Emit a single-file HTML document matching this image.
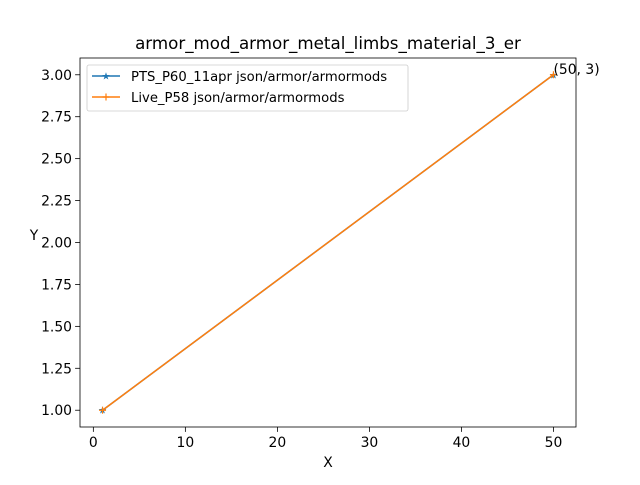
<!DOCTYPE html>
<html><head><meta charset="utf-8"><style>
body{margin:0;background:#fff;font-family:"Liberation Sans","DejaVu Sans",sans-serif;}
svg text{font-family:"DejaVu Sans","Liberation Sans",sans-serif;}
</style></head><body>
<svg id="chart" width="640" height="480" viewBox="0 0 640 480"></svg>
<script>
const xValues=[1,50];
const seriesA=[1,3];
const seriesB=[1,3];
const seriesNames=["PTS_P60_11apr json/armor/armormods","Live_P58 json/armor/armormods"];
const xTicks=[0,10,20,30,40,50];
const yTicks=[1.00,1.25,1.50,1.75,2.00,2.25,2.50,2.75,3.00];
const annotText="(50, 3)";

const NS="http://www.w3.org/2000/svg";
const svg=document.getElementById('chart');
const L=80,R=576,T=58,B=427;
const xmin=-1.45,xmax=52.45,ymin=0.9,ymax=3.1;
const sx=v=>L+(v-xmin)/(xmax-xmin)*(R-L);
const sy=v=>B-(v-ymin)/(ymax-ymin)*(B-T);
function el(tag,attrs,text){const e=document.createElementNS(NS,tag);for(const k in attrs)e.setAttribute(k,attrs[k]);if(text!==undefined)e.textContent=text;svg.appendChild(e);return e;}

const title=el('text',{x:328,y:49,'text-anchor':'middle','font-size':16.7},'armor_mod_armor_metal_limbs_material_3_er');



xTicks.forEach(t=>{
  const x=sx(t);
  const tk=el('line',{x1:x,x2:x,y1:B,y2:B+4.9,stroke:'#000','stroke-width':0.8});
  
  
  const lb=el('text',{x:x,y:B+20,'text-anchor':'middle','font-size':13.9},String(t));
  
  
});
yTicks.forEach(t=>{
  const y=sy(t);
  const tk=el('line',{x1:L-4.9,x2:L,y1:y,y2:y,stroke:'#000','stroke-width':0.8});
  
  
  const lb=el('text',{x:L-8,y:y+5,'text-anchor':'end','font-size':13.9},t.toFixed(2));
  
  
});
const xt=el('text',{x:328,y:467,'text-anchor':'middle','font-size':13.9},'X');


const yt=el('text',{x:34,y:240,'text-anchor':'middle','font-size':13.9},'Y');



function pts(ys){return xValues.map((x,i)=>sx(x)+','+sy(ys[i])).join(' ');}
const la=el('polyline',{points:pts(seriesA),fill:'none',stroke:'#1f77b4','stroke-width':1.5});


xValues.forEach((x,i)=>{
  const m=el('text',{x:sx(x),y:sy(seriesA[i])+3.5,'text-anchor':'middle','font-size':10,fill:'#1f77b4'},'★');
  
  
});
const lbn=el('polyline',{points:pts(seriesB),fill:'none',stroke:'#ff7f0e','stroke-width':1.5});


xValues.forEach((x,i)=>{
  const X=sx(x),Y=sy(seriesB[i]);
  const m=el('path',{d:`M${X-3.5},${Y}H${X+3.5}M${X},${Y-3.5}V${Y+3.5}`,stroke:'#ff7f0e','stroke-width':1.2});
  
  
});
const an=el('text',{x:sx(xValues[1]),y:sy(seriesA[1])-1,'font-size':13.9},annotText);



const frame=el('rect',{x:L,y:T,width:R-L,height:B-T,fill:'none',stroke:'#000','stroke-width':0.8});



const lg=el('rect',{x:87,y:65,width:321,height:46,rx:2,fill:'#fff','fill-opacity':0.8,stroke:'#ccc','stroke-width':0.8});


const colors=['#1f77b4','#ff7f0e'];
seriesNames.forEach((n,i)=>{
  const y=76+i*21;
  const ln=el('line',{x1:92,x2:120,y1:y,y2:y,stroke:colors[i],'stroke-width':1.5});
  
  
  if(i===0){const s=el('text',{x:106,y:y+3.5,'text-anchor':'middle','font-size':10,fill:colors[0]},'★');
    
    }
  else{const s=el('path',{d:`M102.5,${y}H109.5M106,${y-3.5}V${y+3.5}`,stroke:colors[1],'stroke-width':1.2});
    
    }
  const t=el('text',{x:131,y:y+5,'font-size':13.2},n);
  
  
});
</script>
</body></html>
